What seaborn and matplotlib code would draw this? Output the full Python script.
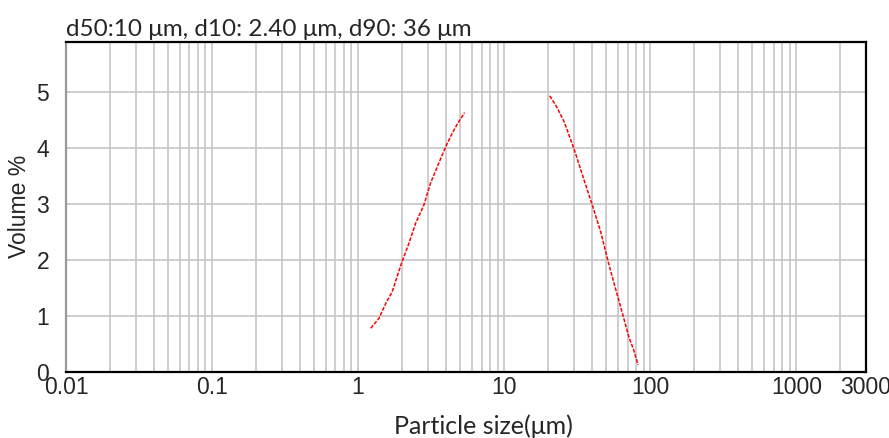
import numpy as np
import pandas as pd
import matplotlib
matplotlib.use("Agg")
import matplotlib.pyplot as plt
from matplotlib.ticker import LogLocator, NullFormatter, FixedLocator, FixedFormatter
import seaborn as sns

# fine branch of the distribution (size in um, volume %)
fine_size = [1.22, 1.39, 1.55, 1.71, 1.98, 2.23, 2.48, 2.82, 3.13, 3.57, 3.93, 4.40, 4.84, 5.35]
fine_vol = [0.78, 0.96, 1.23, 1.43, 1.94, 2.30, 2.66, 2.98, 3.37, 3.73, 3.99, 4.26, 4.45, 4.63]

# coarse branch
coarse_size = [20.5, 22.8, 25.7, 30.0, 34.3, 40.1, 45.7, 51.5, 57.8, 64.9, 71.3, 77.1, 82.6]
coarse_vol = [4.93, 4.74, 4.47, 3.99, 3.52, 2.98, 2.51, 1.97, 1.49, 1.02, 0.63, 0.39, 0.125]

# tiny trace near the left edge
trace_size = [0.0212, 0.0235]
trace_vol = [0.0, 0.0]

title_text = "d50:10 \u03bcm, d10: 2.40 \u03bcm, d90: 36 \u03bcm"
x_label = "Particle size(\u03bcm)"
y_label = "Volume %"
x_ticks = [0.01, 0.1, 1, 10, 100, 1000, 3000]
x_ticklabels = ["0.01", "0.1", "1", "10", "100", "1000", "3000"]
y_ticks = [0, 1, 2, 3, 4, 5]

df = pd.concat([
    pd.DataFrame({"size": trace_size, "volume": trace_vol, "segment": "trace"}),
    pd.DataFrame({"size": fine_size, "volume": fine_vol, "segment": "fine"}),
    pd.DataFrame({"size": coarse_size, "volume": coarse_vol, "segment": "coarse"}),
], ignore_index=True)

sns.set_style("white")
plt.rcParams["font.family"] = ["Liberation Sans", "DejaVu Sans"]

fig = plt.figure(figsize=(8.89, 4.38), dpi=100)
ax = fig.add_axes([66 / 889, 1 - 372 / 438, 800 / 889, 330 / 438])

sns.lineplot(data=df, x="size", y="volume", units="segment", estimator=None,
             sort=False, color="#ff0000", linewidth=1.1, ax=ax)
for line in ax.lines:
    line.set_linestyle((0, (2.5, 1.0)))

ax.set_xscale("log")
ax.set_xlim(0.01, 3000)
ax.set_ylim(0, 5.89)

ax.xaxis.set_major_locator(FixedLocator(x_ticks))
ax.xaxis.set_major_formatter(FixedFormatter(x_ticklabels))
ax.xaxis.set_minor_locator(LogLocator(base=10, subs=np.arange(2, 10)))
ax.xaxis.set_minor_formatter(NullFormatter())
ax.set_yticks(y_ticks)
ax.set_yticklabels([str(v) for v in y_ticks])

ax.set_axisbelow(True)
ax.grid(True, which="both", axis="x", color="#c6c6c6", linewidth=1.2)
ax.grid(True, which="major", axis="y", color="#c6c6c6", linewidth=1.2)

ax.tick_params(axis="both", which="both", length=0, labelsize=16.5)
ax.tick_params(axis="x", pad=3)
ax.tick_params(axis="y", pad=12)

for side in ["top", "right", "bottom"]:
    ax.spines[side].set_color("black")
    ax.spines[side].set_linewidth(1.6)
ax.spines["left"].set_color("#999999")
ax.spines["left"].set_linewidth(1.6)

ax.set_title(title_text, loc="left", fontsize=17.5, family=["Lato", "DejaVu Sans"], pad=4)
ax.set_xlabel(x_label, fontsize=18, family=["Lato", "DejaVu Sans"])
ax.xaxis.set_label_coords((483 - 66) / 800, (372 - 414) / 330)
ax.set_ylabel(y_label, fontsize=16.5)
ax.yaxis.set_label_coords((31 - 66) / 800, (372 - 206) / 330)

fig.savefig("out.png", dpi=100)
